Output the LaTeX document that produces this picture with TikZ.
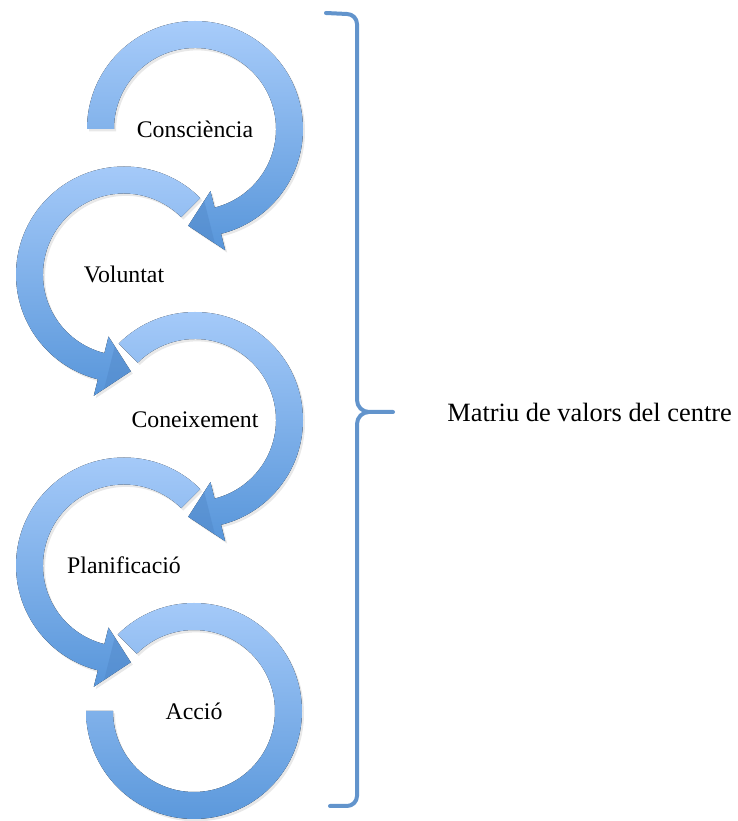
\documentclass[tikz,border=0pt]{standalone}
\usepackage{fontspec}
\setmainfont{Liberation Serif}
\usetikzlibrary{shadows,positioning,calc}
\definecolor{RingLight}{RGB}{168,204,250}
\definecolor{RingDark}{RGB}{88,150,218}
\definecolor{HeadBlue}{RGB}{78,132,196}
\definecolor{BraceBlue}{RGB}{98,148,204}
\tikzset{
  ring/.style={top color=RingLight, bottom color=RingDark,
    drop shadow={opacity=.18, shadow xshift=1pt, shadow yshift=-1.2pt}},
  ringhead/.style={fill=HeadBlue, opacity=.4},
  stage/.style={font=\fontsize{11.9}{14}\selectfont, inner sep=0pt},
  bracket/.style={draw=BraceBlue, line width=2pt, line cap=round, line join=round},
}

\begin{document}
\begin{tikzpicture}[x=.5pt,y=.5pt]
  \useasboundingbox (0,0) rectangle (738,821);
  \coordinate (c1) at (195,692);
  \coordinate (c2) at (124,546.5);
  \coordinate (c3) at (195,401);
  \coordinate (c4) at (124,255.5);
  \coordinate (c5) at (194,110);
  \foreach \c/\a/\b/\t in {c1/180/-76/-18, c2/45/256/18, c3/135/-76/-18, c4/45/256/18}{
    \begin{scope}[shift={(\c)}]
      \fill[ring] (\a:108) arc[start angle=\a, end angle=\b, radius=108]
        -- (\b:125) -- ({\b+\t}:97) -- (\b:64) -- (\b:81)
        arc[start angle=\b, end angle=\a, radius=81] -- cycle;
      \fill[ringhead] ($(\b:125)!.28!({\b+\t}:97)$) -- ({\b+\t}:97)
        -- ($(\b:64)!.28!({\b+\t}:97)$) -- cycle;
    \end{scope}
  }
  \begin{scope}[shift={(c5)}]
    \fill[ring] (135:108) arc[start angle=135, end angle=-180, radius=108]
      -- (180:81) arc[start angle=-180, end angle=135, radius=81] -- cycle;
  \end{scope}
  \node[stage] (consc) at (c1) {Consciència};
  \node[stage] (volun) at (c2) {Voluntat};
  \node[stage] (conei) at (c3) {Coneixement};
  \node[stage] (plani) at (c4) {Planificació};
  \node[stage] (accio) at (c5) {Acció};
  \coordinate (bracetip) at (393,409);
  \draw[bracket] (326,808) -- (347,807) to[out=0,in=90] (357,797) -- (357,421)
    to[out=-90,in=180] (369,409) -- (bracetip);
  \draw[bracket] (369,409) to[out=180,in=90] (357,397) -- (357,25)
    to[out=-90,in=0] (347,15) -- (330,15);
  \node[right=27pt of bracetip, inner sep=0pt, font=\fontsize{13.2}{16}\selectfont] (matriu)
    {Matriu de valors del centre};
\end{tikzpicture}
\end{document}
